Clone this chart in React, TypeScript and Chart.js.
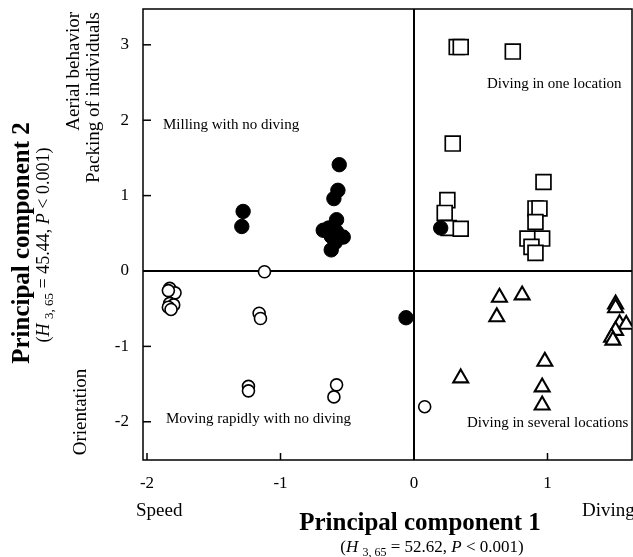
import React, { useEffect, useRef } from 'react';
import { Chart, registerables } from 'chart.js';

Chart.register(...registerables);

// ---------- data ----------
const X_TICKS = [-2, -1, 0, 1];
const Y_TICKS = [-2, -1, 0, 1, 2, 3];
const X_MIN = -2.03;
const X_MAX = 1.633;
const Y_MIN = -2.507;
const Y_MAX = 3.475;

// Milling with no diving (filled circles)
const MILLING_X = [-1.28, -1.29, -0.56, -0.57, -0.6, -0.58, -0.68, -0.62, -0.53, -0.62, -0.64, -0.59, -0.58, -0.06, 0.2];
const MILLING_Y = [0.79, 0.59, 1.41, 1.07, 0.96, 0.68, 0.54, 0.46, 0.45, 0.28, 0.57, 0.38, 0.52, -0.62, 0.57];

// Diving in one location (open squares)
const ONE_LOC_X = [0.32, 0.35, 0.74, 0.29, 0.97, 0.25, 0.23, 0.26, 0.35, 0.91, 0.94, 0.91, 0.85, 0.96, 0.88, 0.91];
const ONE_LOC_Y = [2.97, 2.97, 2.91, 1.69, 1.18, 0.94, 0.77, 0.57, 0.56, 0.83, 0.83, 0.65, 0.43, 0.43, 0.32, 0.24];

// Moving rapidly with no diving (open circles)
const MOVING_X = [-1.83, -1.79, -1.84, -1.83, -1.8, -1.84, -1.82, -1.12, -1.16, -1.15, -1.24, -1.24, -0.58, -0.6, 0.08];
const MOVING_Y = [-0.23, -0.29, -0.26, -0.43, -0.45, -0.48, -0.51, -0.01, -0.56, -0.63, -1.53, -1.59, -1.51, -1.67, -1.8];

// Diving in several locations (open triangles)
const SEVERAL_X = [0.64, 0.81, 0.62, 0.35, 0.98, 0.96, 0.96, 1.51, 1.51, 1.54, 1.59, 1.51, 1.48, 1.49];
const SEVERAL_Y = [-0.35, -0.32, -0.61, -1.42, -1.2, -1.54, -1.78, -0.44, -0.49, -0.7, -0.71, -0.79, -0.88, -0.92];

const SERIF = '"Liberation Serif", "Times New Roman", serif';

type Seg = { t: string; f: string; dy?: number };

function drawRich(ctx: CanvasRenderingContext2D, segs: Seg[], x: number, y: number, rot: number) {
  ctx.save();
  ctx.translate(x, y);
  ctx.rotate(rot);
  ctx.textAlign = 'left';
  ctx.textBaseline = 'alphabetic';
  let w = 0;
  segs.forEach((s) => {
    ctx.font = s.f;
    w += ctx.measureText(s.t).width;
  });
  let xx = -w / 2;
  segs.forEach((s) => {
    ctx.font = s.f;
    ctx.fillText(s.t, xx, s.dy || 0);
    xx += ctx.measureText(s.t).width;
  });
  ctx.restore();
}

function hLabel(stat: string, size: number): Seg[] {
  const n = `${size}px ${SERIF}`;
  const it = `italic ${size}px ${SERIF}`;
  const sub = `${Math.round(size * 0.72)}px ${SERIF}`;
  return [
    { t: '(', f: n },
    { t: 'H', f: it },
    { t: ' ', f: n },
    { t: '3, 65', f: sub, dy: 4 },
    { t: ` = ${stat}, `, f: n },
    { t: 'P', f: it },
    { t: ' < 0.001)', f: n },
  ];
}

const toPts = (xs: number[], ys: number[]) => xs.map((x, i) => ({ x, y: ys[i] }));

const zeroPad = (s: any) => {
  s.paddingLeft = 0;
  s.paddingRight = 0;
  s.paddingTop = 0;
  s.paddingBottom = 0;
};

export default function App() {
  const ref = useRef<HTMLCanvasElement>(null);

  useEffect(() => {
    document.body.style.margin = '0';
    const frame = {
      id: 'frame',
      beforeDatasetsDraw(chart: any) {
        const { ctx, chartArea: a, scales } = chart;
        const xs = scales.x;
        const ys = scales.y;
        const line = (x1: number, y1: number, x2: number, y2: number) => {
          ctx.beginPath();
          ctx.moveTo(x1, y1);
          ctx.lineTo(x2, y2);
          ctx.stroke();
        };
        ctx.save();
        ctx.strokeStyle = '#000';
        ctx.lineWidth = 1.5;
        ctx.strokeRect(a.left, a.top, a.right - a.left, a.bottom - a.top);
        ctx.lineWidth = 2;
        const x0 = xs.getPixelForValue(0);
        const y0 = ys.getPixelForValue(0);
        line(x0, a.top, x0, a.bottom);
        line(a.left, y0, a.right, y0);
        ctx.lineWidth = 1.5;
        X_TICKS.forEach((v) => {
          const px = xs.getPixelForValue(v);
          line(px, a.bottom, px, a.bottom - 7);
        });
        Y_TICKS.forEach((v) => {
          const py = ys.getPixelForValue(v);
          line(a.left, py, a.left + 8, py);
        });
        ctx.restore();
      },
      afterDraw(chart: any) {
        const { ctx } = chart;
        ctx.save();
        ctx.fillStyle = '#000';
        ctx.textAlign = 'left';
        ctx.textBaseline = 'alphabetic';
        ctx.font = `15px ${SERIF}`;
        ctx.fillText('Milling with no diving', 163, 129);
        ctx.fillText('Diving in one location', 487, 88);
        ctx.fillText('Moving rapidly with no diving', 166, 423);
        ctx.fillText('Diving in several locations', 467, 427);

        ctx.font = `19px ${SERIF}`;
        ctx.fillText('Speed', 136, 516);
        ctx.fillText('Diving', 582, 516);

        // bottom titles
        drawRich(ctx, [{ t: 'Principal component 1', f: `bold 25px ${SERIF}` }], 420, 530, 0);
        drawRich(ctx, hLabel('52.62', 17), 432, 552, 0);

        // left titles
        drawRich(ctx, [{ t: 'Principal component 2', f: `bold 25px ${SERIF}` }], 29, 243, -Math.PI / 2);
        drawRich(ctx, hLabel('45.44', 18), 49, 245, -Math.PI / 2);

        // rotated side descriptors
        ctx.font = `19px ${SERIF}`;
        const rotText = (t: string, x: number, y: number, align: CanvasTextAlign) => {
          ctx.save();
          ctx.translate(x, y);
          ctx.rotate(-Math.PI / 2);
          ctx.textAlign = align;
          ctx.fillText(t, 0, 0);
          ctx.restore();
        };
        rotText('Aerial behavior', 79, 12, 'right');
        rotText('Packing of individuals', 99, 12, 'right');
        rotText('Orientation', 86, 412, 'center');
        ctx.restore();
      },
    };

    const chart = new Chart(ref.current as HTMLCanvasElement, {
      type: 'scatter',
      data: {
        datasets: [
          {
            label: 'Milling with no diving',
            data: toPts(MILLING_X, MILLING_Y),
            pointStyle: 'circle',
            pointRadius: 7.2,
            backgroundColor: '#000',
            borderColor: '#000',
            borderWidth: 1,
          },
          {
            label: 'Diving in one location',
            data: toPts(ONE_LOC_X, ONE_LOC_Y),
            pointStyle: 'rect',
            pointRadius: 10.5,
            backgroundColor: '#fff',
            borderColor: '#000',
            borderWidth: 1.7,
          },
          {
            label: 'Moving rapidly with no diving',
            data: toPts(MOVING_X, MOVING_Y),
            pointStyle: 'circle',
            pointRadius: 6,
            backgroundColor: '#fff',
            borderColor: '#000',
            borderWidth: 1.6,
          },
          {
            label: 'Diving in several locations',
            data: toPts(SEVERAL_X, SEVERAL_Y),
            pointStyle: 'triangle',
            pointRadius: 8.6,
            backgroundColor: '#fff',
            borderColor: '#000',
            borderWidth: 2.1,
          },
        ],
      },
      options: {
        animation: false,
        responsive: false,
        devicePixelRatio: 1,
        layout: { autoPadding: false, padding: { top: 9, right: 1, left: 0, bottom: 0 } },
        plugins: { legend: { display: false }, tooltip: { enabled: false } },
        scales: {
          x: {
            type: 'linear',
            min: X_MIN,
            max: X_MAX,
            grid: { display: false, drawTicks: false },
            border: { display: false },
            afterBuildTicks: (s: any) => {
              s.ticks = X_TICKS.map((v) => ({ value: v }));
            },
            afterFit: (s: any) => {
              s.height = 97;
              zeroPad(s);
            },
            ticks: {
              color: '#000',
              padding: 13,
              maxRotation: 0,
              font: { family: SERIF, size: 17 },
              callback: (v: any) => String(v),
            },
          },
          y: {
            type: 'linear',
            min: Y_MIN,
            max: Y_MAX,
            grid: { display: false, drawTicks: false },
            border: { display: false },
            afterBuildTicks: (s: any) => {
              s.ticks = Y_TICKS.map((v) => ({ value: v }));
            },
            afterFit: (s: any) => {
              s.width = 143;
              zeroPad(s);
            },
            ticks: {
              color: '#000',
              padding: 14,
              font: { family: SERIF, size: 17 },
              callback: (v: any) => String(v),
            },
          },
        },
      },
      plugins: [frame],
    } as any);
    return () => chart.destroy();
  }, []);

  return (
    <div style={{ position: 'absolute', left: 0, top: 0, width: 633, height: 557 }}>
      <canvas ref={ref} width={633} height={557} style={{ width: 633, height: 557, display: 'block' }} />
    </div>
  );
}
